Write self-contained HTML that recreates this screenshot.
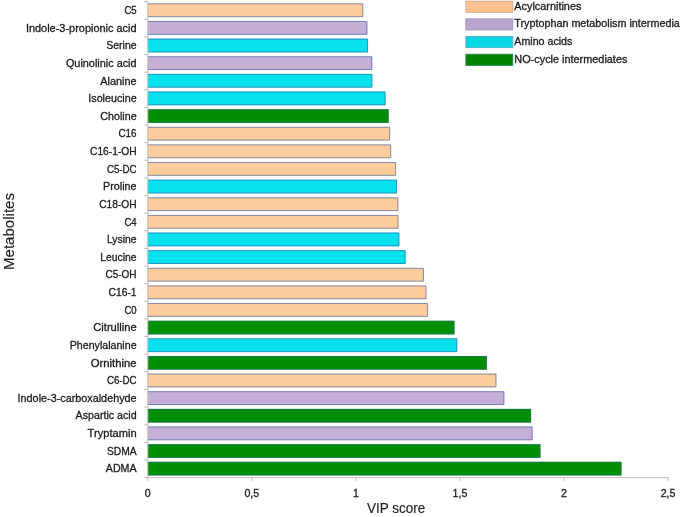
<!DOCTYPE html>
<html lang="en">
<head>
<meta charset="utf-8">
<title>VIP score of metabolites</title>
<style>
html,body{margin:0;padding:0;background:#fff;}
body{width:685px;height:517px;overflow:hidden;}
svg{display:block;will-change:transform;}
text{font-family:"Liberation Sans",sans-serif;fill:#1c1c1c;stroke:#1c1c1c;stroke-width:0.3px;}
.lbl{font-size:10.6px;stroke-width:0.45px;}
.leg{font-size:10.3px;stroke-width:0.55px;}
.ttl{font-size:14.2px;stroke-width:0.15px;}
.bar{stroke:rgba(65,100,165,0.7);stroke-width:0.9;}
.bd{fill:none;stroke-width:0.9;}
.ax{stroke:#bdbdbd;stroke-width:1;fill:none;}
</style>
</head>
<body>
<svg width="685" height="517" viewBox="0 0 685 517">
<rect x="0" y="0" width="685" height="517" fill="#ffffff"/>
<g>
<rect x="147.80" y="3.40" width="215.40" height="13.70" fill="#FDCD9C"/>
<path class="bd" d="M147.80 3.85H362.75V16.65H147.80" stroke="rgba(65,100,165,0.7)"/>
<rect x="147.80" y="21.03" width="219.50" height="13.70" fill="#C6AFD7"/>
<path class="bd" d="M147.80 21.48H366.85V34.28H147.80" stroke="rgba(65,100,165,0.7)"/>
<rect x="147.80" y="38.66" width="220.20" height="13.70" fill="#05E2EE"/>
<path class="bd" d="M147.80 39.11H367.55V51.91H147.80" stroke="rgba(65,100,165,0.7)"/>
<rect x="147.80" y="56.29" width="224.40" height="13.70" fill="#C6AFD7"/>
<path class="bd" d="M147.80 56.74H371.75V69.54H147.80" stroke="rgba(65,100,165,0.7)"/>
<rect x="147.80" y="73.92" width="224.50" height="13.70" fill="#05E2EE"/>
<path class="bd" d="M147.80 74.37H371.85V87.17H147.80" stroke="rgba(65,100,165,0.7)"/>
<rect x="147.80" y="91.55" width="237.70" height="13.70" fill="#05E2EE"/>
<path class="bd" d="M147.80 92.00H385.05V104.80H147.80" stroke="rgba(65,100,165,0.7)"/>
<rect x="147.80" y="109.18" width="240.90" height="13.70" fill="#008E06"/>
<path class="bd" d="M147.80 109.63H388.25V122.43H147.80" stroke="rgba(65,100,165,0.5)"/>
<rect x="147.80" y="126.81" width="242.30" height="13.70" fill="#FDCD9C"/>
<path class="bd" d="M147.80 127.26H389.65V140.06H147.80" stroke="rgba(65,100,165,0.7)"/>
<rect x="147.80" y="144.44" width="243.30" height="13.70" fill="#FDCD9C"/>
<path class="bd" d="M147.80 144.89H390.65V157.69H147.80" stroke="rgba(65,100,165,0.7)"/>
<rect x="147.80" y="162.07" width="248.20" height="13.70" fill="#FDCD9C"/>
<path class="bd" d="M147.80 162.52H395.55V175.32H147.80" stroke="rgba(65,100,165,0.7)"/>
<rect x="147.80" y="179.70" width="249.20" height="13.70" fill="#05E2EE"/>
<path class="bd" d="M147.80 180.15H396.55V192.95H147.80" stroke="rgba(65,100,165,0.7)"/>
<rect x="147.80" y="197.33" width="250.50" height="13.70" fill="#FDCD9C"/>
<path class="bd" d="M147.80 197.78H397.85V210.58H147.80" stroke="rgba(65,100,165,0.7)"/>
<rect x="147.80" y="214.96" width="250.70" height="13.70" fill="#FDCD9C"/>
<path class="bd" d="M147.80 215.41H398.05V228.21H147.80" stroke="rgba(65,100,165,0.7)"/>
<rect x="147.80" y="232.59" width="251.50" height="13.70" fill="#05E2EE"/>
<path class="bd" d="M147.80 233.04H398.85V245.84H147.80" stroke="rgba(65,100,165,0.7)"/>
<rect x="147.80" y="250.22" width="257.80" height="13.70" fill="#05E2EE"/>
<path class="bd" d="M147.80 250.67H405.15V263.47H147.80" stroke="rgba(65,100,165,0.7)"/>
<rect x="147.80" y="267.85" width="276.10" height="13.70" fill="#FDCD9C"/>
<path class="bd" d="M147.80 268.30H423.45V281.10H147.80" stroke="rgba(65,100,165,0.7)"/>
<rect x="147.80" y="285.48" width="278.60" height="13.70" fill="#FDCD9C"/>
<path class="bd" d="M147.80 285.93H425.95V298.73H147.80" stroke="rgba(65,100,165,0.7)"/>
<rect x="147.80" y="303.11" width="280.20" height="13.70" fill="#FDCD9C"/>
<path class="bd" d="M147.80 303.56H427.55V316.36H147.80" stroke="rgba(65,100,165,0.7)"/>
<rect x="147.80" y="320.74" width="306.70" height="13.70" fill="#008E06"/>
<path class="bd" d="M147.80 321.19H454.05V333.99H147.80" stroke="rgba(65,100,165,0.5)"/>
<rect x="147.80" y="338.37" width="309.40" height="13.70" fill="#05E2EE"/>
<path class="bd" d="M147.80 338.82H456.75V351.62H147.80" stroke="rgba(65,100,165,0.7)"/>
<rect x="147.80" y="356.00" width="339.10" height="13.70" fill="#008E06"/>
<path class="bd" d="M147.80 356.45H486.45V369.25H147.80" stroke="rgba(65,100,165,0.5)"/>
<rect x="147.80" y="373.63" width="348.60" height="13.70" fill="#FDCD9C"/>
<path class="bd" d="M147.80 374.08H495.95V386.88H147.80" stroke="rgba(65,100,165,0.7)"/>
<rect x="147.80" y="391.26" width="356.50" height="13.70" fill="#C6AFD7"/>
<path class="bd" d="M147.80 391.71H503.85V404.51H147.80" stroke="rgba(65,100,165,0.7)"/>
<rect x="147.80" y="408.89" width="383.30" height="13.70" fill="#008E06"/>
<path class="bd" d="M147.80 409.34H530.65V422.14H147.80" stroke="rgba(65,100,165,0.5)"/>
<rect x="147.80" y="426.52" width="384.80" height="13.70" fill="#C6AFD7"/>
<path class="bd" d="M147.80 426.97H532.15V439.77H147.80" stroke="rgba(65,100,165,0.7)"/>
<rect x="147.80" y="444.15" width="392.70" height="13.70" fill="#008E06"/>
<path class="bd" d="M147.80 444.60H540.05V457.40H147.80" stroke="rgba(65,100,165,0.5)"/>
<rect x="147.80" y="461.78" width="473.70" height="13.70" fill="#008E06"/>
<path class="bd" d="M147.80 462.23H621.05V475.03H147.80" stroke="rgba(65,100,165,0.5)"/>
</g>
<g class="ax">
<line x1="147.80" y1="1.65" x2="147.80" y2="477.66"/>
<line x1="147.80" y1="477.66" x2="668.05" y2="477.66"/>
<line x1="144.20" y1="1.65" x2="147.80" y2="1.65"/>
<line x1="144.20" y1="19.28" x2="147.80" y2="19.28"/>
<line x1="144.20" y1="36.91" x2="147.80" y2="36.91"/>
<line x1="144.20" y1="54.54" x2="147.80" y2="54.54"/>
<line x1="144.20" y1="72.17" x2="147.80" y2="72.17"/>
<line x1="144.20" y1="89.80" x2="147.80" y2="89.80"/>
<line x1="144.20" y1="107.43" x2="147.80" y2="107.43"/>
<line x1="144.20" y1="125.06" x2="147.80" y2="125.06"/>
<line x1="144.20" y1="142.69" x2="147.80" y2="142.69"/>
<line x1="144.20" y1="160.32" x2="147.80" y2="160.32"/>
<line x1="144.20" y1="177.95" x2="147.80" y2="177.95"/>
<line x1="144.20" y1="195.58" x2="147.80" y2="195.58"/>
<line x1="144.20" y1="213.21" x2="147.80" y2="213.21"/>
<line x1="144.20" y1="230.84" x2="147.80" y2="230.84"/>
<line x1="144.20" y1="248.47" x2="147.80" y2="248.47"/>
<line x1="144.20" y1="266.10" x2="147.80" y2="266.10"/>
<line x1="144.20" y1="283.73" x2="147.80" y2="283.73"/>
<line x1="144.20" y1="301.36" x2="147.80" y2="301.36"/>
<line x1="144.20" y1="318.99" x2="147.80" y2="318.99"/>
<line x1="144.20" y1="336.62" x2="147.80" y2="336.62"/>
<line x1="144.20" y1="354.25" x2="147.80" y2="354.25"/>
<line x1="144.20" y1="371.88" x2="147.80" y2="371.88"/>
<line x1="144.20" y1="389.51" x2="147.80" y2="389.51"/>
<line x1="144.20" y1="407.14" x2="147.80" y2="407.14"/>
<line x1="144.20" y1="424.77" x2="147.80" y2="424.77"/>
<line x1="144.20" y1="442.40" x2="147.80" y2="442.40"/>
<line x1="144.20" y1="460.03" x2="147.80" y2="460.03"/>
<line x1="144.20" y1="477.66" x2="147.80" y2="477.66"/>
<line x1="147.80" y1="477.66" x2="147.80" y2="481.26"/>
<line x1="251.85" y1="477.66" x2="251.85" y2="481.26"/>
<line x1="355.90" y1="477.66" x2="355.90" y2="481.26"/>
<line x1="459.95" y1="477.66" x2="459.95" y2="481.26"/>
<line x1="564.00" y1="477.66" x2="564.00" y2="481.26"/>
<line x1="668.05" y1="477.66" x2="668.05" y2="481.26"/>
</g>
<g class="lbl" text-anchor="end">
<text x="136.60" y="14.00" textLength="12.20" lengthAdjust="spacingAndGlyphs">C5</text>
<text x="136.60" y="31.63" textLength="110.70" lengthAdjust="spacingAndGlyphs">Indole-3-propionic acid</text>
<text x="136.60" y="49.26" textLength="30.40" lengthAdjust="spacingAndGlyphs">Serine</text>
<text x="136.60" y="66.89" textLength="70.70" lengthAdjust="spacingAndGlyphs">Quinolinic acid</text>
<text x="136.60" y="84.52" textLength="36.30" lengthAdjust="spacingAndGlyphs">Alanine</text>
<text x="136.60" y="102.15" textLength="48.30" lengthAdjust="spacingAndGlyphs">Isoleucine</text>
<text x="136.60" y="119.78" textLength="36.30" lengthAdjust="spacingAndGlyphs">Choline</text>
<text x="136.60" y="137.41" textLength="18.10" lengthAdjust="spacingAndGlyphs">C16</text>
<text x="136.60" y="155.04" textLength="46.60" lengthAdjust="spacingAndGlyphs">C16-1-OH</text>
<text x="136.60" y="172.67" textLength="29.70" lengthAdjust="spacingAndGlyphs">C5-DC</text>
<text x="136.60" y="190.30" textLength="33.60" lengthAdjust="spacingAndGlyphs">Proline</text>
<text x="136.60" y="207.93" textLength="37.40" lengthAdjust="spacingAndGlyphs">C18-OH</text>
<text x="136.60" y="225.56" textLength="12.20" lengthAdjust="spacingAndGlyphs">C4</text>
<text x="136.60" y="243.19" textLength="29.70" lengthAdjust="spacingAndGlyphs">Lysine</text>
<text x="136.60" y="260.82" textLength="36.30" lengthAdjust="spacingAndGlyphs">Leucine</text>
<text x="136.60" y="278.45" textLength="31.20" lengthAdjust="spacingAndGlyphs">C5-OH</text>
<text x="136.60" y="296.08" textLength="28.00" lengthAdjust="spacingAndGlyphs">C16-1</text>
<text x="136.60" y="313.71" textLength="12.20" lengthAdjust="spacingAndGlyphs">C0</text>
<text x="136.60" y="331.34" textLength="43.30" lengthAdjust="spacingAndGlyphs">Citrulline</text>
<text x="136.60" y="348.97" textLength="66.90" lengthAdjust="spacingAndGlyphs">Phenylalanine</text>
<text x="136.60" y="366.60" textLength="45.90" lengthAdjust="spacingAndGlyphs">Ornithine</text>
<text x="136.60" y="384.23" textLength="29.70" lengthAdjust="spacingAndGlyphs">C6-DC</text>
<text x="136.60" y="401.86" textLength="119.00" lengthAdjust="spacingAndGlyphs">Indole-3-carboxaldehyde</text>
<text x="136.60" y="419.49" textLength="61.00" lengthAdjust="spacingAndGlyphs">Aspartic acid</text>
<text x="136.60" y="437.12" textLength="49.00" lengthAdjust="spacingAndGlyphs">Tryptamin</text>
<text x="136.60" y="454.75" textLength="29.70" lengthAdjust="spacingAndGlyphs">SDMA</text>
<text x="136.60" y="472.38" textLength="30.80" lengthAdjust="spacingAndGlyphs">ADMA</text>
</g>
<g class="lbl" text-anchor="middle">
<text x="147.80" y="496.7">0</text>
<text x="251.85" y="496.7">0,5</text>
<text x="355.90" y="496.7">1</text>
<text x="459.95" y="496.7">1,5</text>
<text x="564.00" y="496.7">2</text>
<text x="668.05" y="496.7">2,5</text>
</g>
<text class="ttl" x="396.2" y="513.3" text-anchor="middle" textLength="58.2" lengthAdjust="spacingAndGlyphs">VIP score</text>
<text class="ttl" transform="translate(14.4 231.5) rotate(-90)" text-anchor="middle" textLength="77" lengthAdjust="spacingAndGlyphs">Metabolites</text>
<g>
<rect x="465.9" y="1.15" width="46.9" height="11.1" fill="#FDC290" stroke="#c9a88c" stroke-width="0.9"/>
<rect x="465.9" y="18.85" width="46.9" height="11.1" fill="#BBA5CE" stroke="#9f93b8" stroke-width="0.9"/>
<rect x="465.9" y="36.55" width="46.9" height="11.1" fill="#06D6E3" stroke="#4fb4c4" stroke-width="0.9"/>
<rect x="465.9" y="54.25" width="46.9" height="11.1" fill="#008604" stroke="#2f8550" stroke-width="0.9"/>
</g>
<g class="leg">
<text x="514.3" y="9.70" textLength="67.10" lengthAdjust="spacingAndGlyphs">Acylcarnitines</text>
<text x="514.3" y="27.35" textLength="165.50" lengthAdjust="spacingAndGlyphs">Tryptophan metabolism intermedia</text>
<text x="514.3" y="45.00" textLength="58.10" lengthAdjust="spacingAndGlyphs">Amino acids</text>
<text x="514.3" y="62.65" textLength="113.10" lengthAdjust="spacingAndGlyphs">NO-cycle intermediates</text>
</g>
</svg>
</body>
</html>
